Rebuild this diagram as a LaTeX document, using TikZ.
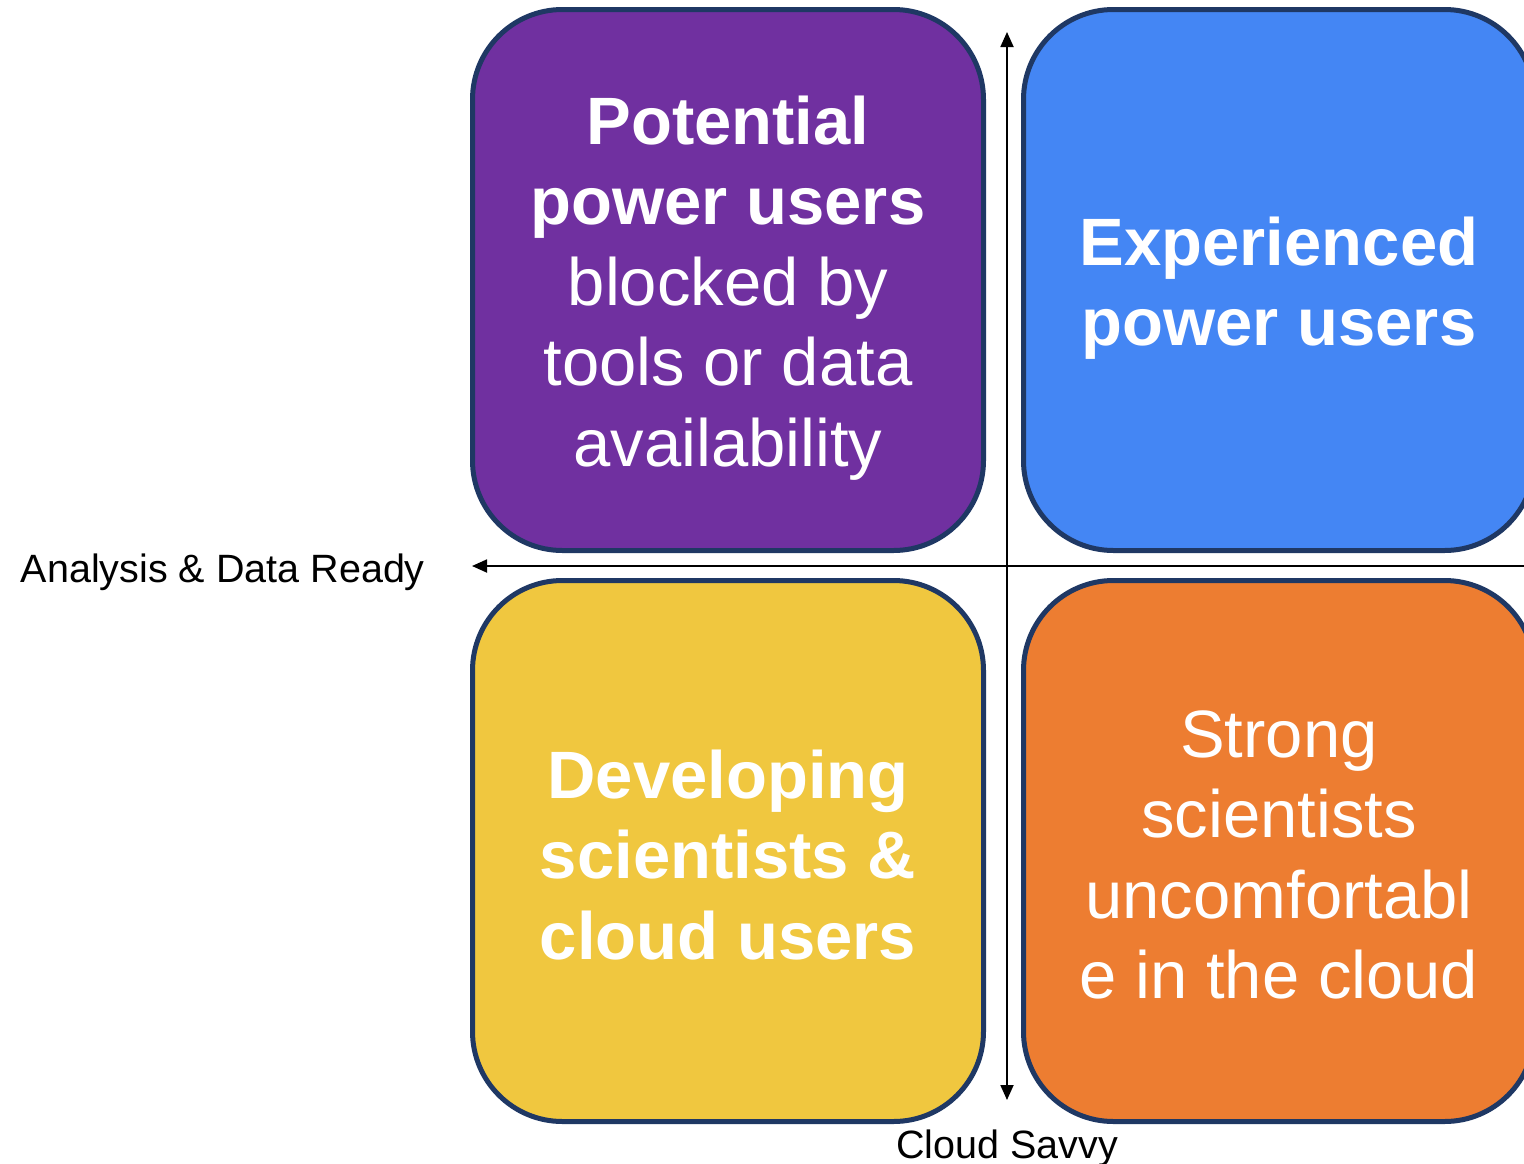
\documentclass[tikz,border=0pt]{standalone}
\usepackage{fontspec}
\setmainfont{Liberation Sans}
\usetikzlibrary{arrows.meta}
\definecolor{cpurple}{HTML}{7030A0}
\definecolor{cblue}{HTML}{4486F4}
\definecolor{cyellow}{HTML}{F0C73F}
\definecolor{corange}{HTML}{ED7D31}
\definecolor{cborder}{HTML}{1F3864}
\tikzset{
  quad/.style={draw=cborder, line width=5pt, rounded corners=90pt,
    minimum width=511pt, minimum height=541pt, inner sep=0pt},
  qtext/.style={align=center, text=white, inner sep=0pt,
    font=\fontsize{67}{80.5}\selectfont},
  axis/.style={line width=1.8pt, black},
  axlabel/.style={inner sep=0pt, font=\fontsize{39.5}{46}\selectfont, text=black}
}
\begin{document}
\begin{tikzpicture}[x=1pt,y=-1pt]
\clip (0,0) rectangle (1524,1163);
\fill[white] (0,0) rectangle (1524,1163);
\node[quad, fill=cpurple] (pq) at (728,280) {};
\node[quad, fill=cblue] (bq) at (1279,280) {};
\node[quad, fill=cyellow] (yq) at (728,851) {};
\node[quad, fill=corange] (oq) at (1279,851) {};
\node[qtext] (pt) at ([yshift=-8pt]pq.center) {\textbf{Potential}\\\textbf{power users}\\blocked by\\tools or data\\availability};
\node[qtext] (bt) at ([yshift=-8pt]bq.center) {\textbf{Experienced}\\\textbf{power users}};
\node[qtext] (yt) at ([yshift=-4pt]yq.center) {\textbf{Developing}\\\textbf{scientists \&}\\\textbf{cloud users}};
\node[qtext] (ot) at ([yshift=-4pt]oq.center) {Strong\\scientists\\uncomfortabl\\e in the cloud};
\coordinate (vtop) at (1007,32);
\coordinate (vbot) at (1007,1100);
\coordinate (hleft) at (472,566);
\coordinate (hright) at (1540,566);
\draw[axis, {Triangle[length=15pt,width=13pt]}-{Triangle[length=15pt,width=13pt]}] (vtop) -- (vbot);
\draw[axis, {Triangle[length=15pt,width=13pt]}-] (hleft) -- (hright);
\node[axlabel, anchor=base east] (xl) at (425,582) {Analysis \& Data Ready};
\node[axlabel, anchor=base] (yl) at (1007,1158) {Cloud Savvy};
\end{tikzpicture}
\end{document}
